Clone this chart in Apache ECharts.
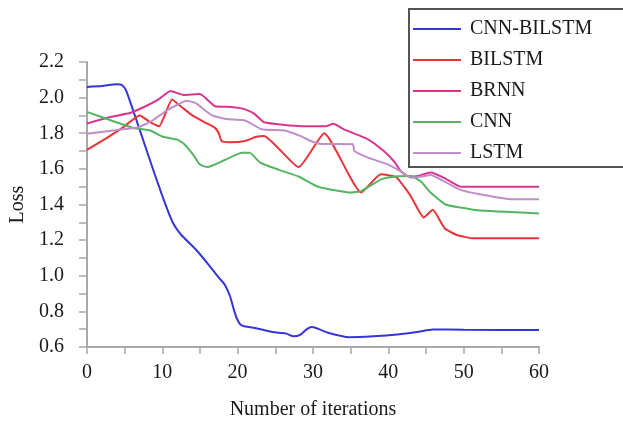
<!DOCTYPE html>
<html>
<head>
<meta charset="utf-8">
<script src="https://cdn.jsdelivr.net/npm/echarts@6/dist/echarts.min.js"></script>
<style>
  html,body{margin:0;padding:0;background:#fff;}
  #chart{width:623px;height:425px;}
</style>
</head>
<body>
<div id="chart"></div>
<script>
// 模型名称 (图例顺序)
var names = ['CNN-BILSTM', 'BILSTM', 'BRNN', 'CNN', 'LSTM'];
var colors = ['#3535d8', '#e8333a', '#d6368e', '#55b462', '#c08ec6'];
// 坐标刻度
var xTicks = [0, 10, 20, 30, 40, 50, 60];
var yTicks = [0.6, 0.8, 1.0, 1.2, 1.4, 1.6, 1.8, 2.0, 2.2];

// [迭代次数, loss]
var cnnBilstm = [[0,2.06],[2,2.065],[4,2.075],[4.7,2.07],[5.3,2.03],[7,1.82],[9,1.57],[10,1.45],[10.7,1.37],[11.5,1.29],[12.5,1.23],[14.4,1.15],[16,1.07],[17.5,0.99],[18.3,0.95],[19,0.885],[19.5,0.81],[19.9,0.76],[20.4,0.725],[21,0.715],[22.3,0.707],[24,0.69],[25.4,0.68],[26.5,0.675],[27.4,0.66],[28.3,0.668],[29.2,0.70],[29.8,0.712],[30.5,0.705],[32,0.68],[34.8,0.655],[38,0.66],[41.2,0.67],[44,0.685],[45.9,0.698],[50,0.697],[60,0.695]];
var bilstm = [[0,1.707],[2.5,1.77],[4.7,1.83],[7,1.90],[8.5,1.86],[9.6,1.84],[11.3,1.99],[12.5,1.95],[14,1.90],[15.7,1.86],[17,1.83],[17.5,1.80],[17.9,1.755],[19,1.75],[21,1.757],[22.5,1.78],[23.5,1.785],[28.1,1.61],[31.5,1.80],[36.4,1.467],[39,1.57],[41,1.555],[42.1,1.50],[43,1.445],[44.7,1.327],[45.9,1.37],[47.5,1.265],[49.2,1.227],[51.3,1.21],[60,1.21]];
var brnn = [[0,1.855],[3,1.89],[5.8,1.915],[8.2,1.96],[9.5,1.99],[11.1,2.037],[12.8,2.015],[15,2.02],[17,1.952],[19.2,1.948],[20.8,1.937],[22.2,1.91],[23.5,1.862],[28.5,1.84],[31.8,1.84],[32.7,1.853],[34.2,1.82],[37.3,1.766],[39.4,1.70],[40.8,1.64],[41.7,1.585],[42.7,1.557],[43.9,1.56],[45.6,1.58],[47.4,1.55],[49.6,1.50],[60,1.50]];
var cnn = [[0,1.92],[3.6,1.866],[6.2,1.83],[8.4,1.815],[10.1,1.78],[12,1.764],[12.9,1.74],[14.1,1.68],[15,1.624],[16,1.61],[18.3,1.65],[20.6,1.69],[21.6,1.69],[23,1.635],[25.4,1.596],[28.1,1.557],[30.7,1.50],[35.1,1.467],[36.4,1.475],[39,1.54],[41.2,1.558],[43,1.56],[44.3,1.53],[45.6,1.467],[47.6,1.40],[49.6,1.383],[51.8,1.368],[60,1.35]];
var lstm = [[0,1.797],[4.8,1.822],[6.7,1.832],[8.5,1.866],[10.5,1.925],[12,1.96],[13.2,1.982],[14.4,1.97],[16.6,1.90],[18.5,1.88],[21,1.872],[23.2,1.822],[26.2,1.815],[28.3,1.785],[29.8,1.755],[31.1,1.740],[35.3,1.738],[35.5,1.70],[37.5,1.66],[40,1.624],[41.7,1.585],[43,1.55],[44.5,1.557],[45.6,1.565],[47.4,1.53],[49.4,1.485],[51.8,1.46],[56.2,1.43],[60,1.43]];

(function(){
  var myChart = echarts.init(document.getElementById('chart'));
  var font = '"Liberation Serif", "Times New Roman", serif';
  var seriesData = [cnnBilstm, bilstm, brnn, cnn, lstm];
  var series = [];
  for (var i = 0; i < names.length; i++) {
    series.push({
      name: names[i],
      type: 'line',
      data: seriesData[i],
      symbol: 'none',
      smooth: i === 0 ? 0.2 : 0.15,
      lineStyle: { width: 2, color: colors[i] },
      itemStyle: { color: colors[i] }
    });
  }
  var axisGray = '#a8a8a8';
  var option = {
    backgroundColor: '#fff',
    animation: false,
    textStyle: { fontFamily: font },
    grid: { left: 83, right: 84, top: 62, bottom: 77 },
    legend: {
      data: names,
      orient: 'vertical',
      left: 409,
      top: 9,
      padding: [10, 45, 4, 4],
      itemGap: 11,
      itemWidth: 48,
      itemHeight: 2,
      icon: 'rect',
      backgroundColor: '#fff',
      borderColor: '#555',
      borderWidth: 2,
      borderRadius: 0,
      textStyle: { fontFamily: font, fontSize: 20, color: '#1a1a1a', lineHeight: 20, padding: [0, 0, 0, 4] }
    },
    xAxis: {
      type: 'value',
      min: xTicks[0],
      max: xTicks[xTicks.length - 1],
      interval: 10,
      name: 'Number of iterations',
      nameLocation: 'middle',
      nameGap: 53,
      nameTextStyle: { fontFamily: font, fontSize: 20, color: '#1a1a1a' },
      axisLine: { lineStyle: { color: axisGray, width: 2 } },
      axisTick: { show: true, length: 7, lineStyle: { color: axisGray, width: 1.5 } },
      minorTick: { show: true, splitNumber: 2, length: 7, lineStyle: { color: axisGray, width: 1.5 } },
      splitLine: { show: false },
      axisLabel: { fontFamily: font, fontSize: 20, color: '#1a1a1a', margin: 16 }
    },
    yAxis: {
      type: 'value',
      min: yTicks[0],
      max: yTicks[yTicks.length - 1],
      interval: 0.2,
      name: 'Loss',
      nameLocation: 'middle',
      nameGap: 57,
      nameTextStyle: { fontFamily: font, fontSize: 20, color: '#1a1a1a' },
      axisLine: { show: true, lineStyle: { color: axisGray, width: 2 } },
      axisTick: { show: true, length: 8, lineStyle: { color: axisGray, width: 1.5 } },
      minorTick: { show: true, splitNumber: 2, length: 8, lineStyle: { color: axisGray, width: 1.5 } },
      splitLine: { show: false },
      axisLabel: {
        fontFamily: font, fontSize: 20, color: '#1a1a1a', margin: 23,
        formatter: function (v) { return v.toFixed(1); }
      }
    },
    series: series
  };
  myChart.setOption(option);
})();
</script>
</body>
</html>
